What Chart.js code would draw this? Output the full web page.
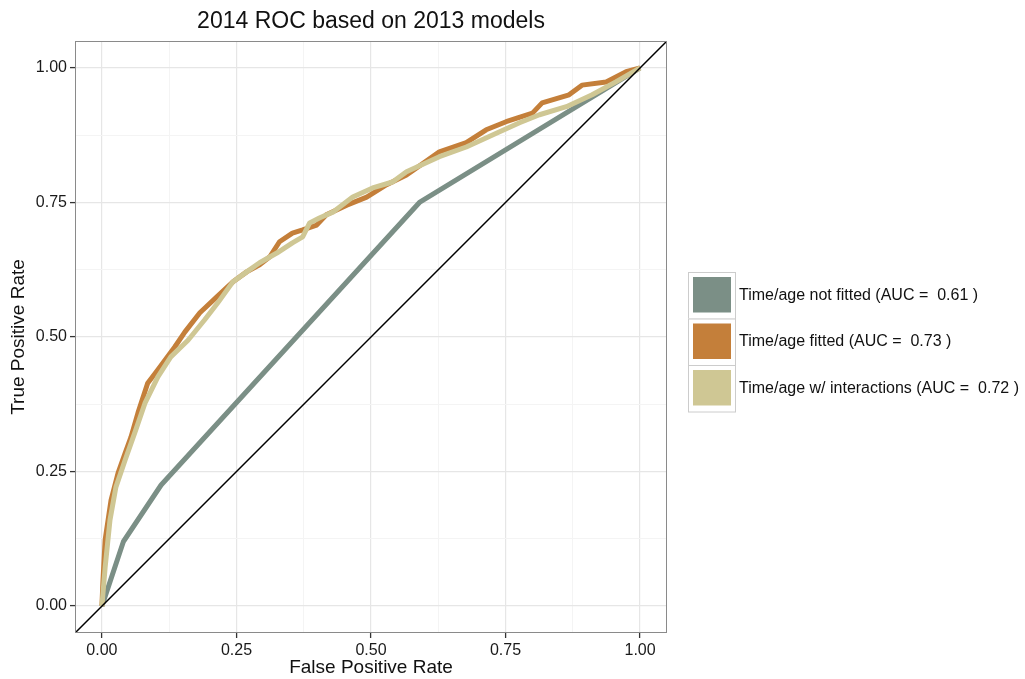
<!DOCTYPE html>
<html>
<head>
<meta charset="utf-8">
<script src="https://cdn.jsdelivr.net/npm/chart.js@4/dist/chart.umd.min.js"></script>
<style>
  html, body { margin: 0; padding: 0; background: #fff; }
  #wrap { width: 1025px; height: 679px; position: relative; }
</style>
</head>
<body>
<div id="wrap"><canvas id="roc" width="1025" height="679"></canvas></div>
<script>
// valores
let notFittedX = [0, 0.04, 0.11, 0.59, 1];
let notFittedY = [0, 0.12, 0.225, 0.75, 1];

let fittedX = [0, 0.002, 0.006, 0.017, 0.030, 0.043, 0.054, 0.067, 0.085, 0.104, 0.135, 0.154, 0.182, 0.213, 0.243, 0.269, 0.293, 0.312, 0.330, 0.354, 0.373, 0.399, 0.417, 0.455, 0.492, 0.529, 0.566, 0.627, 0.677, 0.714, 0.751, 0.800, 0.818, 0.868, 0.892, 0.937, 0.974, 1];
let fittedY = [0, 0.048, 0.123, 0.197, 0.247, 0.284, 0.314, 0.359, 0.414, 0.439, 0.481, 0.509, 0.545, 0.574, 0.602, 0.621, 0.634, 0.649, 0.677, 0.693, 0.699, 0.708, 0.727, 0.745, 0.760, 0.783, 0.801, 0.844, 0.861, 0.885, 0.900, 0.916, 0.935, 0.950, 0.968, 0.974, 0.993, 1];

let interX = [0, 0.006, 0.015, 0.026, 0.043, 0.061, 0.080, 0.104, 0.128, 0.160, 0.191, 0.215, 0.243, 0.269, 0.293, 0.325, 0.354, 0.373, 0.386, 0.404, 0.429, 0.466, 0.503, 0.540, 0.566, 0.627, 0.677, 0.738, 0.776, 0.813, 0.863, 0.911, 0.955, 1];
let interY = [0, 0.072, 0.160, 0.221, 0.271, 0.322, 0.377, 0.426, 0.463, 0.494, 0.532, 0.563, 0.602, 0.621, 0.638, 0.656, 0.675, 0.686, 0.712, 0.721, 0.732, 0.760, 0.777, 0.788, 0.807, 0.835, 0.853, 0.881, 0.898, 0.913, 0.928, 0.950, 0.974, 1];

let diagX = [-0.05, 1.05];
let diagY = [-0.05, 1.05];

let modelNames = ["Time/age not fitted", "Time/age fitted", "Time/age w/ interactions"];
let aucValues = ["0.61", "0.73", "0.72"];
let colores = ["#7b8f86", "#c47f3a", "#cfc794"];

let majorTicks = [0, 0.25, 0.5, 0.75, 1];
let allTicks = [0, 0.125, 0.25, 0.375, 0.5, 0.625, 0.75, 0.875, 1];

function puntos(xs, ys) {
    return xs.map((x, i) => ({ x: x, y: ys[i] }));
}

function esMayor(v) {
    return majorTicks.some(t => Math.abs(t - v) < 1e-9);
}

let FONT = "'Liberation Sans', Arial, sans-serif";

// borde del panel y leyenda
let extras = {
    id: "extras",
    afterDraw(chart) {
        let c = chart.ctx;
        let a = chart.chartArea;
        c.save();
        c.strokeStyle = "#8a8a8a";
        c.lineWidth = 1;
        c.strokeRect(a.left + 0.5, a.top + 0.5, a.right - a.left - 1, a.bottom - a.top - 1);

        let lx = 688, ly = 272, w = 47, h = 46.5;
        c.font = "16px " + FONT;
        c.textBaseline = "middle";
        c.textAlign = "left";
        modelNames.forEach((n, i) => {
            let y = ly + i * h;
            c.fillStyle = "#ffffff";
            c.fillRect(lx, y, w, h);
            c.strokeStyle = "#cccccc";
            c.lineWidth = 1;
            c.strokeRect(lx + 0.5, y + 0.5, w, h);
            c.fillStyle = colores[i];
            c.fillRect(lx + 5, y + 5, w - 9, h - 11);
            c.fillStyle = "#111";
            c.fillText(n + " (AUC =  " + aucValues[i] + " )", lx + 51, y + h / 2);
        });
        c.restore();
    }
};

function ejeLineal(titulo, tituloPad, extra) {
    return Object.assign({
        type: "linear",
        min: -0.05,
        max: 1.05,
        afterBuildTicks: s => { s.ticks = allTicks.map(v => ({ value: v })); },
        ticks: {
            color: "#1a1a1a",
            font: { family: FONT, size: 16 },
            padding: 3,
            maxRotation: 0,
            autoSkip: false,
            callback: v => esMayor(v) ? v.toFixed(2) : ""
        },
        grid: {
            color: ctx => esMayor(ctx.tick.value) ? "#e6e6e6" : "#f4f4f4",
            lineWidth: ctx => esMayor(ctx.tick.value) ? 1.2 : 1,
            tickColor: ctx => esMayor(ctx.tick.value) ? "#333333" : "rgba(0,0,0,0)",
            tickLength: 5,
            tickWidth: 1.3
        },
        border: { display: false },
        title: {
            display: true,
            text: titulo,
            color: "#111",
            font: { family: FONT, size: 19 },
            padding: tituloPad
        }
    }, extra);
}

let ctx = document.getElementById("roc");

new Chart(ctx, {
    type: "scatter",
    data: {
        datasets: [
            {
                label: "diagonal",
                data: puntos(diagX, diagY),
                showLine: true,
                borderColor: "#000",
                borderWidth: 1.5,
                pointRadius: 0,
                order: 0
            },
            {
                label: modelNames[2],
                data: puntos(interX, interY),
                showLine: true,
                borderColor: colores[2],
                borderWidth: 5,
                borderJoinStyle: "round",
                pointRadius: 0,
                order: 1
            },
            {
                label: modelNames[1],
                data: puntos(fittedX, fittedY),
                showLine: true,
                borderColor: colores[1],
                borderWidth: 5,
                borderJoinStyle: "round",
                pointRadius: 0,
                order: 2
            },
            {
                label: modelNames[0],
                data: puntos(notFittedX, notFittedY),
                showLine: true,
                borderColor: colores[0],
                borderWidth: 5,
                borderJoinStyle: "round",
                pointRadius: 0,
                order: 3
            }
        ]
    },
    options: {
        responsive: false,
        animation: false,
        layout: { padding: { right: 358, top: 0, left: 0, bottom: 0 } },
        plugins: {
            legend: { display: false },
            tooltip: { enabled: false },
            title: {
                display: true,
                text: "2014 ROC based on 2013 models",
                fullSize: false,
                color: "#111",
                font: { family: FONT, size: 23, weight: "normal" },
                padding: { top: 8, bottom: 5.4 }
            }
        },
        scales: {
            x: ejeLineal("False Positive Rate", { top: 0, bottom: 0 }, {
                afterFit: s => { s.height = 46; }
            }),
            y: ejeLineal("True Positive Rate", { top: 7, bottom: 0 }, {
                afterFit: s => { s.width = 75; }
            })
        }
    },
    plugins: [extras]
});
</script>
</body>
</html>
